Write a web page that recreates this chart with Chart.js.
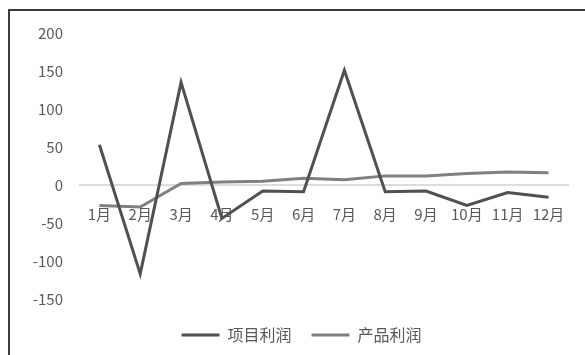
<!DOCTYPE html>
<html>
<head>
<meta charset="utf-8">
<script src="https://cdn.jsdelivr.net/npm/chart.js@4.4.0/dist/chart.umd.min.js"></script>
<style>
  html, body { margin: 0; padding: 0; background: #fff; overflow: hidden; }
  #wrap { position: relative; width: 585px; height: 355px; }
  #frame { position: absolute; left: 8px; top: 9px; width: 620px; height: 400px;
           border: 2px solid #3c3c3c; pointer-events: none; }
</style>
</head>
<body>
<div id="wrap">
  <canvas id="c" width="585" height="355"></canvas>
  <div id="frame"></div>
</div>
<script>
const months = ["1月", "2月", "3月", "4月", "5月", "6月", "7月", "8月", "9月", "10月", "11月", "12月"];
const projectProfit = [53, -117, 135, -44, -8, -9, 151, -9, -8, -27, -10, -16];
const productProfit = [-27, -29, 2, 4, 5, 9, 7, 12, 12, 15, 17, 16];
const yTicks = [200, 150, 100, 50, 0, -50, -100, -150];

const font = "'Noto Sans CJK SC', 'Noto Sans', sans-serif";
const textColor = "#595959";

new Chart(document.getElementById("c"), {
    type: "line",
    data: {
        labels: months,
        datasets: [{
            label: "项目利润",
            data: projectProfit,
            borderColor: "#505050",
            backgroundColor: "#505050",
            borderWidth: 3,
            pointRadius: 0,
            tension: 0
        }, {
            label: "产品利润",
            data: productProfit,
            borderColor: "#808080",
            backgroundColor: "#808080",
            borderWidth: 3,
            pointRadius: 0,
            tension: 0
        }]
    },
    options: {
        responsive: false,
        animation: false,
        devicePixelRatio: 1,
        layout: { padding: { top: 33, left: 18, right: 0, bottom: 2 } },
        plugins: {
            tooltip: { enabled: false },
            legend: {
                position: "bottom",
                labels: {
                    usePointStyle: true,
                    pointStyle: "line",
                    pointStyleWidth: 38,
                    padding: 20,
                    color: textColor,
                    font: { family: font, size: 16 }
                }
            }
        },
        scales: {
            x: {
                position: { y: 0 },
                offset: true,
                grid: { display: false, drawTicks: false },
                border: { display: false },
                ticks: { color: textColor, padding: 20, maxRotation: 0, autoSkip: false,
                         font: { family: font, size: 15 } },
                afterFit: function(s) { s.height = 0; }
            },
            // empty bottom strip between plot and legend
            x2: {
                type: "category",
                position: "bottom",
                display: true,
                grid: { display: false, drawTicks: false },
                border: { display: false },
                ticks: { display: false },
                afterFit: function(s) { s.height = 8; }
            },
            y: {
                min: -150,
                max: 200,
                afterBuildTicks: function(s) { s.ticks = yTicks.map(v => ({ value: v })); },
                grid: {
                    drawTicks: false,
                    color: c => c.tick && c.tick.value === 0 ? "#dcdcdc" : "rgba(0,0,0,0)",
                    lineWidth: 2
                },
                border: { display: false },
                ticks: { color: textColor, padding: 16, font: { family: font, size: 15 } },
                afterFit: function(s) { s.width = 61; }
            },
            y2: {
                position: "right",
                display: true,
                grid: { display: false, drawTicks: false },
                border: { display: false },
                ticks: { display: false },
                afterFit: function(s) { s.width = 14; }
            }
        }
    }
});
</script>
</body>
</html>
